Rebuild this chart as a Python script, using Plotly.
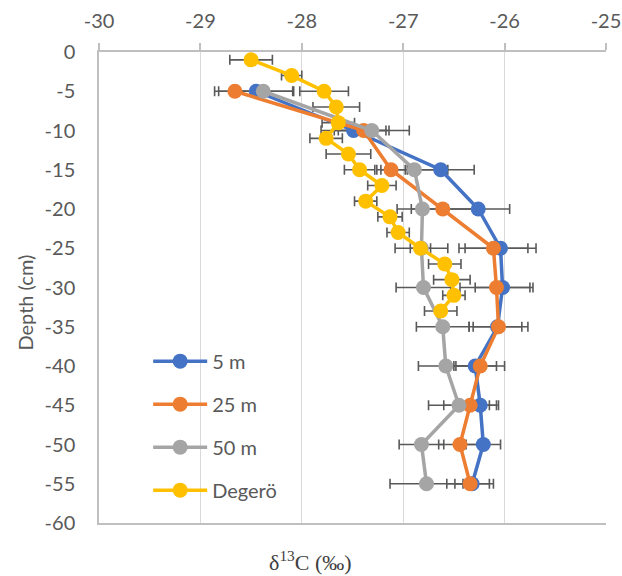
import plotly.graph_objects as go

# Depths (cm) for the three transect series
depth_sites = [-5, -10, -15, -20, -25, -30, -35, -40, -45, -50, -55]

d13c_5m = [-28.45, -27.49, -26.63, -26.26, -26.04, -26.02, -26.07, -26.29, -26.24, -26.21, -26.32]
err_5m = [0.37, 0.32, 0.33, 0.31, 0.35, 0.27, 0.24, 0.21, 0.18, 0.17, 0.17]

d13c_25m = [-28.66, -27.39, -27.12, -26.61, -26.11, -26.08, -26.06, -26.24, -26.34, -26.44, -26.34]
err_25m = [0.20, 0.25, 0.14, 0.31, 0.34, 0.36, 0.29, 0.24, 0.26, 0.21, 0.23]

d13c_50m = [-28.38, -27.31, -26.89, -26.81, -26.82, -26.80, -26.61, -26.58, -26.45, -26.82, -26.77]
err_50m = [0.29, 0.37, 0.33, 0.25, 0.26, 0.27, 0.26, 0.27, 0.30, 0.22, 0.36]

depth_degero = [-1, -3, -5, -7, -9, -11, -13, -15, -17, -19, -21, -23, -25, -27, -29, -31, -33]
d13c_degero = [-28.50, -28.10, -27.78, -27.66, -27.64, -27.76, -27.54, -27.43, -27.21, -27.37,
               -27.13, -27.05, -26.83, -26.59, -26.52, -26.50, -26.63]
err_degero = [0.21, 0.10, 0.24, 0.23, 0.16, 0.16, 0.22, 0.15, 0.14, 0.11,
              0.12, 0.11, 0.10, 0.16, 0.18, 0.11, 0.16]

series_names = ["5 m", "25 m", "50 m", "Degerö"]
series_colors = ["#4472C4", "#ED7D31", "#A5A5A5", "#FFC000"]

series = [
    (d13c_5m, depth_sites, err_5m),
    (d13c_25m, depth_sites, err_25m),
    (d13c_50m, depth_sites, err_50m),
    (d13c_degero, depth_degero, err_degero),
]

y_ticks = [0, -5, -10, -15, -20, -25, -30, -35, -40, -45, -50, -55, -60]
y_ticktext = ["0", "-5", "-10", "-15", "-20", "-25", "-30", "-35", "-40", "-45", "-50", "-55", "-60"]
x_ticks = [-30, -29, -28, -27, -26, -25]
x_ticktext = ["-30", "-29", "-28", "-27", "-26", "-25"]

fig = go.Figure()

# error bars first (drawn beneath all lines and markers)
for (xv, yv, ev) in series:
    fig.add_trace(go.Scatter(
        x=xv, y=yv, mode="markers",
        marker=dict(size=1, color="rgba(0,0,0,0)"),
        error_x=dict(type="data", array=ev, symmetric=True,
                     color="#595959", thickness=1.6, width=5),
        showlegend=False, hoverinfo="skip",
    ))

for i, (xv, yv, ev) in enumerate(series):
    fig.add_trace(go.Scatter(
        x=xv, y=yv, mode="lines+markers", name=series_names[i],
        legendgroup=series_names[i],
        line=dict(color=series_colors[i], width=3.5),
        marker=dict(size=15, color=series_colors[i]),
    ))

axis_grey = "#bfbfbf"
text_grey = "#595959"
font_main = "Lato, 'Open Sans', sans-serif"

fig.update_layout(
    width=622, height=576,
    margin=dict(l=99, r=16, t=52, b=53, autoexpand=False),
    paper_bgcolor="white", plot_bgcolor="white",
    font=dict(family=font_main, size=20, color=text_grey),
    xaxis=dict(
        side="top", range=[-30.0001, -24.9999], tickvals=x_ticks, ticktext=x_ticktext,
        ticks="outside", ticklen=7, tickcolor=axis_grey, tickwidth=1.5,
        showline=True, linecolor=axis_grey, linewidth=1.5, mirror=True,
        showgrid=True, gridcolor="#d9d9d9", gridwidth=1.2, zeroline=False,
        ticklabelstandoff=7, automargin=False,
        tickfont=dict(family=font_main, size=20, color=text_grey),
    ),
    yaxis=dict(
        range=[-60.0001, 0.0001], tickvals=y_ticks, ticktext=y_ticktext, ticks="",
        showline=True, linecolor=axis_grey, linewidth=1.5,
        showgrid=False, zeroline=False, ticklabelstandoff=18, automargin=False,
        tickfont=dict(family=font_main, size=20, color=text_grey),
    ),
    yaxis2=dict(
        overlaying="y", side="right", range=[-60.0001, 0.0001], tickvals=y_ticks,
        showticklabels=False, ticks="outside", ticklen=7, tickcolor=axis_grey,
        tickwidth=1.5, showline=True, linecolor=axis_grey, linewidth=1.5,
        showgrid=False, zeroline=False, automargin=False,
    ),
    yaxis3=dict(
        overlaying="y", side="right", range=[-60.0001, 0.0001], tickvals=y_ticks,
        showticklabels=False, ticks="inside", ticklen=8, tickcolor=axis_grey,
        tickwidth=1.5, showline=False, showgrid=False, zeroline=False, automargin=False,
    ),
    legend=dict(
        x=0.097, y=0.385, xanchor="left", yanchor="top",
        bgcolor="rgba(0,0,0,0)", borderwidth=0, tracegroupgap=14,
        font=dict(family=font_main, size=20, color=text_grey),
        itemwidth=54,
    ),
    showlegend=True,
    annotations=[
        dict(text="Depth (cm)", xref="paper", yref="paper",
             x=-0.146, y=0.468, textangle=-90, showarrow=False,
             font=dict(family=font_main, size=20, color=text_grey),
             xanchor="center", yanchor="middle"),
        dict(text="δ<sup>13</sup>C (‰)", xref="paper", yref="paper",
             x=0.417, y=-0.08, showarrow=False,
             font=dict(family="'Liberation Serif', 'Times New Roman', serif", size=22, color="#404040"),
             xanchor="center", yanchor="middle"),
    ],
)

fig.write_html("out.html")
